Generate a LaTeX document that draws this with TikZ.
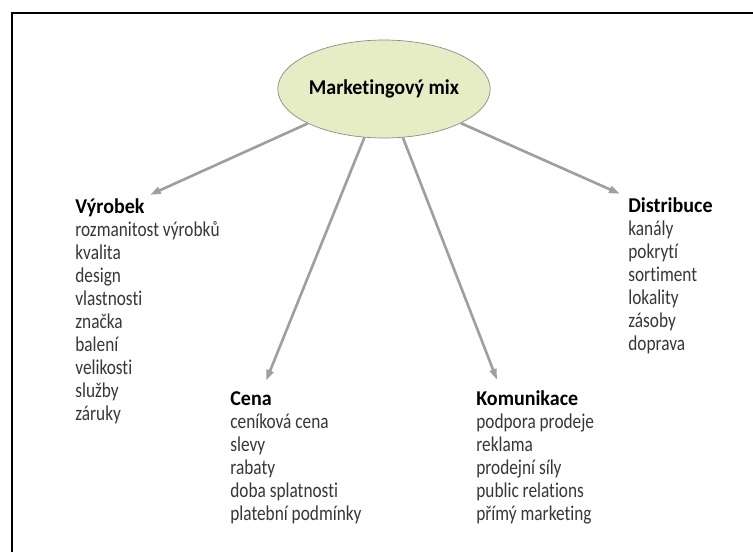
\documentclass[tikz,border=0pt]{standalone}
\usepackage{fontspec}
\setmainfont{Carlito}[FakeStretch=0.82, Ligatures=NoCommon,
    BoldFeatures={FakeStretch=0.95}]
\usetikzlibrary{arrows.meta,shapes.geometric,positioning}
\definecolor{mixfill}{RGB}{230,236,196}
\definecolor{itemgray}{RGB}{55,55,55}
\tikzstyle{mixnode} = [
    ellipse,
    draw=gray!90,
    fill=mixfill,
    minimum width=3.44cm,
    minimum height=1.96cm,
    inner sep=0pt,
    font=\fontsize{12}{14}\selectfont\bfseries
]
\tikzstyle{head} = [
    anchor=base west,
    inner sep=0pt,
    font=\fontsize{12}{14}\selectfont\bfseries
]
\tikzstyle{item} = [
    anchor=base west,
    inner sep=0pt,
    text=itemgray,
    font=\fontsize{12}{14}\selectfont
]
\tikzstyle{flow} = [
    -{Triangle[length=0.22cm,width=0.14cm]},
    line width=1.5pt,
    draw=gray!75
]

\begin{document}
\begin{tikzpicture}[x=0.02cm, y=-0.02cm]
    \useasboundingbox (0,0) rectangle (753,552);
    % Frame
    \draw[line width=1.2pt] (12,552) -- (12,13) -- (753,13);

    \node[mixnode] (mix) at (384,89) {Marketingový mix};

    % Headings
    \node[head] (vyrobek) at (75,213) {Výrobek};
    \node[head] (cena) at (230,405) {Cena};
    \node[head] (komunikace) at (476,405) {Komunikace};
    \node[head] (distribuce) at (628,212) {Distribuce};

    % Item lists
    \foreach \t [count=\i] in {rozmanitost výrobků, kvalita, design, vlastnosti,
        značka, balení, velikosti, služby, záruky}
        \node[item] (vyrobek-\i) at ([yshift={-\i*0.462cm}]vyrobek.base west) {\t};
    \foreach \t [count=\i] in {ceníková cena, slevy, rabaty, doba splatnosti,
        platební podmínky}
        \node[item] (cena-\i) at ([yshift={-\i*0.462cm}]cena.base west) {\t};
    \foreach \t [count=\i] in {podpora prodeje, reklama, prodejní síly,
        public relations, přímý marketing}
        \node[item] (komunikace-\i) at ([yshift={-\i*0.462cm}]komunikace.base west) {\t};
    \foreach \t [count=\i] in {kanály, pokrytí, sortiment, lokality, zásoby, doprava}
        \node[item] (distribuce-\i) at ([yshift={-\i*0.462cm}]distribuce.base west) {\t};

    % Arrows
    \draw[flow] (mix) -- ([shift={(5,-3)}]vyrobek.north east);
    \draw[flow] (mix) -- ([shift={(-6,-10)}]cena.north east);
    \draw[flow] (mix) -- ([shift={(21,-10)}]komunikace.north west);
    \draw[flow] (mix) -- ([shift={(-8,-3)}]distribuce.north west);
\end{tikzpicture}
\end{document}
